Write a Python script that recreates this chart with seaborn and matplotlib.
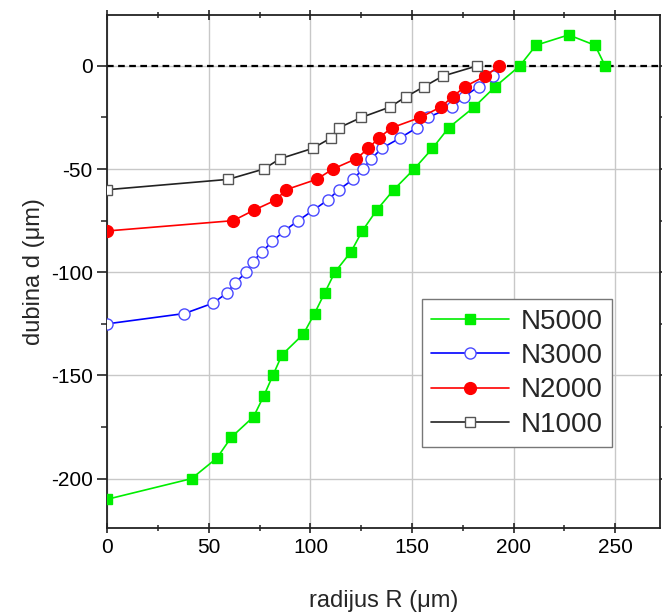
import matplotlib
matplotlib.use("Agg")
import matplotlib.pyplot as plt
import seaborn as sns
import pandas as pd
from matplotlib.ticker import MultipleLocator

# ---- data ----
n1000_x = [0, 59.5, 77, 85, 101, 110, 114, 125, 139, 147, 156, 165, 182]
n1000_y = [-60, -55, -50, -45, -40, -35, -30, -25, -20, -15, -10, -5, 0]

n2000_x = [0, 62, 72, 83, 88, 103, 111, 122.5, 128.5, 133.5, 140, 154, 164, 170, 176, 186, 193]
n2000_y = [-80, -75, -70, -65, -60, -55, -50, -45, -40, -35, -30, -25, -20, -15, -10, -5, 0]

n3000_x = [0, 38, 52, 59, 63, 68.5, 71.5, 76.3, 81.3, 87, 94, 101.3, 108.5, 114, 121,
           125.7, 130, 135, 144, 152.3, 157.7, 169.6, 175.5, 182.7, 190]
n3000_y = [-125, -120, -115, -110, -105, -100, -95, -90, -85, -80, -75, -70, -65, -60, -55,
           -50, -45, -40, -35, -30, -25, -20, -15, -10, -5]

n5000_x = [0, 41.5, 54, 61, 72, 77, 81.5, 86, 96.5, 102, 107, 112, 120, 125.5, 132.5,
           141, 151, 160, 168, 180.5, 191, 203, 211, 227, 240, 245]
n5000_y = [-210, -200, -190, -180, -170, -160, -150, -140, -130, -120, -110, -100, -90, -80, -70,
           -60, -50, -40, -30, -20, -10, 0, 10, 15, 10, 0]

x_ticks = [0, 50, 100, 150, 200, 250]
y_ticks = [-200, -150, -100, -50, 0]

sns.set_style("ticks")
plt.rcParams['font.family'] = ['Liberation Sans', 'DejaVu Sans']
plt.rcParams['axes.unicode_minus'] = False

fig = plt.figure(figsize=(6.62, 6.12), dpi=100)
ax = fig.add_axes([0.162, 0.137, 0.835, 0.838])

ax.grid(True, which='major', color='#c8c8c8', lw=1.0, zorder=0)
ax.axhline(0, color='black', lw=1.6, ls=(0, (3, 2)), zorder=1)

series = [
    ("N5000", n5000_x, n5000_y, dict(color='#00ee00', marker='s', mfc='#00ee00', mec='#00ee00', ms=7.5)),
    ("N3000", n3000_x, n3000_y, dict(color='#0000ff', marker='o', mfc='white', mec='#4a4aff', ms=8, mew=1.0)),
    ("N2000", n2000_x, n2000_y, dict(color='#ff0000', marker='o', mfc='#ff0000', mec='#ff0000', ms=8.5)),
    ("N1000", n1000_x, n1000_y, dict(color='#222222', marker='s', mfc='white', mec='#555555', ms=7.5, mew=1.0)),
]

handles = []
for name, xs, ys, st in series:
    df = pd.DataFrame({"R": xs, "d": ys})
    sns.lineplot(data=df, x="R", y="d", ax=ax, sort=False, estimator=None,
                 color=st['color'], lw=1.2, marker=st['marker'],
                 markerfacecolor=st['mfc'], markeredgecolor=st['mec'],
                 markersize=st['ms'], markeredgewidth=st.get('mew', 1.0),
                 label=name, zorder=3)
    handles.append(ax.lines[-1])

ax.set_xlim(0, 272)
ax.set_ylim(-224, 24.5)
ax.set_xticks(x_ticks)
ax.set_yticks(y_ticks)
ax.xaxis.set_minor_locator(MultipleLocator(25))
ax.yaxis.set_minor_locator(MultipleLocator(25))

for s in ax.spines.values():
    s.set_color('#222222')
    s.set_linewidth(1.3)

ax.tick_params(axis='both', which='major', labelsize=15, length=7, width=1.2, colors='#222222',
               labelcolor='black', top=True, right=True, direction='out')
ax.tick_params(axis='both', which='minor', length=4, width=1.1, top=True, right=True, colors='#222222')
ax.tick_params(axis='x', which='both', bottom=True, direction='inout')
ax.tick_params(axis='x', which='both', top=True, labeltop=False)
ax.tick_params(axis='y', which='both', left=True)

ax.set_xlabel("radijus R (μm)", fontsize=17, labelpad=24)
ax.set_ylabel("dubina d (μm)", fontsize=17, labelpad=4)

leg = ax.legend(handles=handles, labels=[s[0] for s in series],
                loc='upper left', bbox_to_anchor=(0.569, 0.447),
                fontsize=20, frameon=True, fancybox=False, framealpha=1,
                edgecolor='#777777', handlelength=2.8, handletextpad=0.4,
                borderpad=0.35, labelspacing=0.3, borderaxespad=0)
leg.get_frame().set_linewidth(1.0)

fig.savefig("out.png", dpi=100)
